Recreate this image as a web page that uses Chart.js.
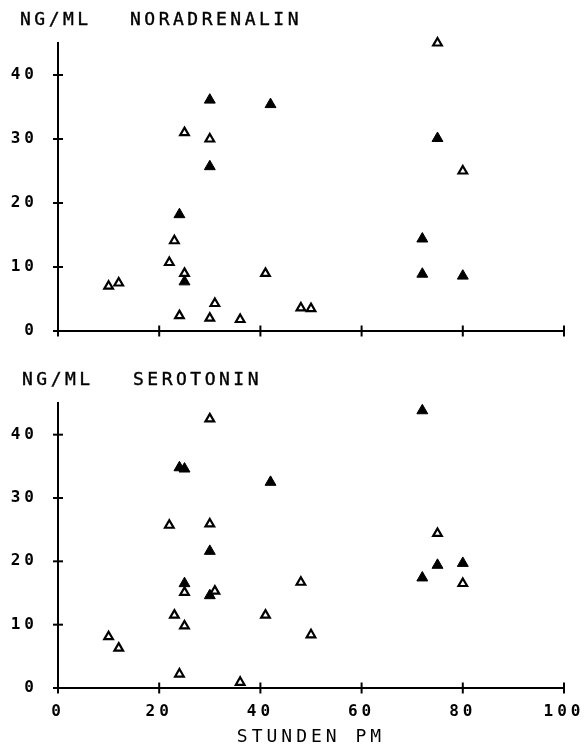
<!DOCTYPE html>
<html><head><meta charset="utf-8">
<script src="https://cdn.jsdelivr.net/npm/chart.js@4/dist/chart.umd.min.js"></script>
<style>
html,body{margin:0;padding:0;background:#fff;width:587px;height:748px;overflow:hidden}
canvas{position:absolute;left:0}
.hd{position:absolute;font-family:"DejaVu Sans Mono",monospace;font-size:18px;line-height:18px;letter-spacing:3.5px;color:#000;white-space:pre;-webkit-text-stroke:0.4px #000}
</style></head><body>
<canvas id="c1" width="587" height="360" style="top:0"></canvas>
<canvas id="c2" width="587" height="388" style="top:360px"></canvas>
<div class="hd" style="left:20px;top:10px">NG/ML</div>
<div class="hd" style="left:130px;top:10px">NORADRENALIN</div>
<div class="hd" style="left:22px;top:370px">NG/ML</div>
<div class="hd" style="left:133px;top:370px">SEROTONIN</div>
<script>
// ---- data ----
const xTicks = [0, 20, 40, 60, 80, 100];
const yTicks = [0, 10, 20, 30, 40];
const xTitle = 'STUNDEN PM';

const noraOpenX   = [10, 12, 22, 23, 25, 25, 24, 30, 30, 31, 36, 41, 48, 50, 75, 80];
const noraOpenY   = [7.0, 7.5, 10.7, 14.1, 31.0, 9.0, 2.4, 30.0, 2.0, 4.3, 1.8, 9.0, 3.6, 3.5, 45.0, 25.0];
const noraFilledX = [30, 30, 24, 25, 42, 75, 72, 72, 80];
const noraFilledY = [36.1, 25.7, 18.2, 7.7, 35.4, 30.1, 14.4, 8.9, 8.6];

const seroOpenX   = [10, 12, 22, 23, 24, 25, 25, 30, 30, 31, 36, 41, 48, 50, 75, 80];
const seroOpenY   = [8.1, 6.3, 25.7, 11.5, 2.2, 9.8, 15.1, 42.5, 25.9, 15.3, 0.9, 11.5, 16.7, 8.4, 24.4, 16.5];
const seroFilledX = [24, 25, 25, 30, 30, 42, 72, 72, 75, 80];
const seroFilledY = [34.8, 34.6, 16.5, 21.6, 14.6, 32.5, 43.8, 17.4, 19.4, 19.7];

// ---- helpers ----
const INK = '#000';
const FONT = 'DejaVu Sans Mono';
const pts = (xs, ys) => xs.map((x, i) => ({x, y: ys[i]}));

const spacingPlugin = {
  id: 'spacing',
  beforeLayout(chart){ chart.ctx.letterSpacing = '4px'; },
  beforeDraw(chart){ chart.ctx.letterSpacing = '4px'; }
};
const crossTicks = {
  id: 'crossTicks',
  beforeDatasetsDraw(chart){
    const {ctx, chartArea, scales} = chart;
    ctx.save();
    ctx.strokeStyle = INK; ctx.lineWidth = 2;
    xTicks.forEach(v => {
      const px = scales.x.getPixelForValue(v);
      ctx.beginPath(); ctx.moveTo(px, chartArea.bottom - 5.5); ctx.lineTo(px, chartArea.bottom + 5.5); ctx.stroke();
    });
    yTicks.forEach(v => {
      const py = scales.y.getPixelForValue(v);
      ctx.beginPath(); ctx.moveTo(chartArea.left - 5, py); ctx.lineTo(chartArea.left + 5, py); ctx.stroke();
    });
    ctx.restore();
  }
};

function makeChart(id, openPts, filledPts, showX, xHeight){
  return new Chart(document.getElementById(id), {
    type: 'scatter',
    data: {
      datasets: [
        {data: openPts, pointStyle: 'triangle', pointRadius: 5, pointBorderWidth: 2.2,
         pointBackgroundColor: '#fff', pointBorderColor: INK, clip: false},
        {data: filledPts, pointStyle: 'triangle', pointRadius: 6.3, pointBorderWidth: 1,
         pointBackgroundColor: INK, pointBorderColor: INK, clip: false}
      ]
    },
    options: {
      responsive: false,
      animation: false,
      events: [],
      layout: {padding: {top: 43, right: 23, left: 0, bottom: 0}},
      plugins: {legend: {display: false}, tooltip: {enabled: false}},
      scales: {
        x: {
          type: 'linear', min: 0, max: 100,
          grid: {display: false},
          border: {display: true, color: INK, width: 2},
          ticks: {display: showX, stepSize: 20, color: INK, padding: 6,
                  font: {family: FONT, size: 16, weight: 'bold'}},
          title: {display: showX, text: xTitle, color: INK, padding: {top: 0, bottom: 0},
                  font: {family: FONT, size: 18}},
          afterBuildTicks: s => { s.ticks = xTicks.map(v => ({value: v})); },
          afterFit: s => { s.height = xHeight; s.paddingLeft = 0; s.paddingRight = 0; }
        },
        y: {
          type: 'linear', min: 0, max: 45,
          grid: {display: false},
          border: {display: true, color: INK, width: 2},
          ticks: {stepSize: 10, color: INK, padding: 12,
                  font: {family: FONT, size: 16, weight: 'bold'}},
          afterBuildTicks: s => { s.ticks = yTicks.map(v => ({value: v})); },
          afterFit: s => { s.width = 58; s.paddingTop = 0; s.paddingBottom = 0; }
        }
      }
    },
    plugins: [spacingPlugin, crossTicks]
  });
}

makeChart('c1', pts(noraOpenX, noraOpenY), pts(noraFilledX, noraFilledY), false, 29);
makeChart('c2', pts(seroOpenX, seroOpenY), pts(seroFilledX, seroFilledY), true, 60);
</script>
</body></html>
